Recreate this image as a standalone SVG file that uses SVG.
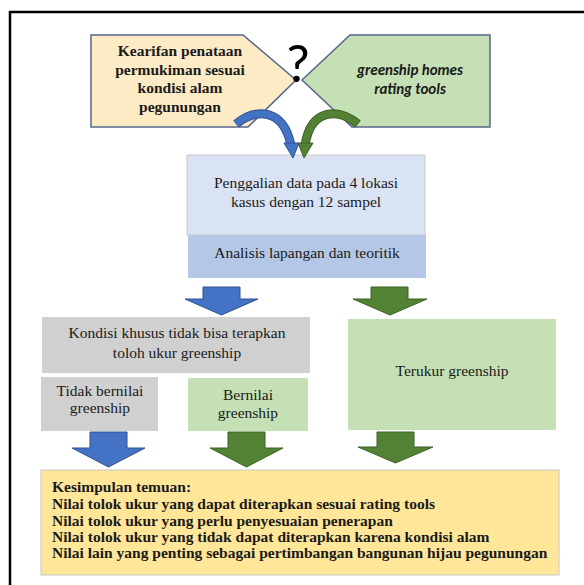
<svg xmlns="http://www.w3.org/2000/svg" width="584" height="585" viewBox="0 0 584 585">
<style>
.serif{font-family:'Liberation Serif','Times New Roman',serif;fill:#1a1a1a;text-anchor:middle}
.b15{font-size:15.5px;font-weight:bold}
.n15{font-size:15.5px}
.concl{font-family:'Liberation Serif','Times New Roman',serif;font-size:15.5px;font-weight:bold;fill:#1a1a1a}
.sans{font-family:Carlito,'Liberation Sans',Arial,sans-serif;text-anchor:middle}
.pent{stroke:#56678a;stroke-width:1.5}
.box{stroke:#c8c8c8;stroke-width:1}
.blueA{fill:#4472c4;stroke:#2f528f;stroke-width:1}
.greenA{fill:#548235;stroke:#3d6127;stroke-width:1}
</style>
<rect width="584" height="585" fill="#ffffff"/>
<path d="M10 585 V12 H584" fill="none" stroke="#000" stroke-width="2.5"/>

<g id="node-kearifan">
<polygon class="pent" points="91,35 243,35 296,80 248,127 91,127" fill="#fdebc6"/>
<text class="serif b15" x="180" y="56">Kearifan penataan</text>
<text class="serif b15" x="180" y="74.5">permukiman sesuai</text>
<text class="serif b15" x="180" y="93">kondisi alam</text>
<text class="serif b15" x="180" y="111.5">pegunungan</text>
</g>

<g id="node-greenship">
<polygon class="pent" points="350,35 490,35 490,127 352,127 302,80" fill="#c5e0b4"/>
<text class="sans" x="410" y="75" font-size="15" font-weight="bold" font-style="italic" fill="#1a1a1a">greenship homes</text>
<text class="sans" x="410" y="94" font-size="15" font-weight="bold" font-style="italic" fill="#1a1a1a">rating tools</text>
</g>

<g id="node-question">
<text class="sans" x="298" y="82" font-size="54" fill="#000">?</text>
</g>

<g id="node-penggalian">
<rect class="box" x="187" y="155" width="238" height="80" fill="#dae3f3"/>
<text class="serif n15" x="306" y="188">Penggalian data pada 4 lokasi</text>
<text class="serif n15" x="306" y="207">kasus dengan 12 sampel</text>
</g>

<g id="node-analisis">
<rect x="188" y="235" width="238" height="43" fill="#b4c7e7"/>
<text class="serif n15" x="307" y="258">Analisis lapangan dan teoritik</text>
</g>

<g id="node-kondisi">
<rect x="42" y="317" width="268" height="56" fill="#d0d0d0"/>
<text class="serif n15" x="177" y="338">Kondisi khusus tidak bisa terapkan</text>
<text class="serif n15" x="177" y="358">toloh ukur greenship</text>
</g>

<g id="node-tidak">
<rect x="41" y="377" width="117" height="54" fill="#d0d0d0"/>
<text class="serif n15" x="100" y="396">Tidak bernilai</text>
<text class="serif n15" x="100" y="413">greenship</text>
</g>

<g id="node-bernilai">
<rect x="188" y="378" width="120" height="53" fill="#c5e0b4"/>
<text class="serif n15" x="248" y="400">Bernilai</text>
<text class="serif n15" x="248" y="418">greenship</text>
</g>

<g id="node-terukur">
<rect x="348" y="319" width="208" height="111" fill="#c5e0b4"/>
<text class="serif n15" x="452" y="376">Terukur greenship</text>
</g>

<g id="node-kesimpulan">
<rect class="box" x="41" y="470" width="518" height="105" fill="#ffe699"/>
<text class="concl" x="52" y="492">Kesimpulan temuan:</text>
<text class="concl" x="52" y="509">Nilai tolok ukur yang dapat diterapkan sesuai rating tools</text>
<text class="concl" x="52" y="526">Nilai tolok ukur yang perlu penyesuaian penerapan</text>
<text class="concl" x="52" y="542">Nilai tolok ukur yang tidak dapat diterapkan karena kondisi alam</text>
<text class="concl" x="52" y="558">Nilai lain yang penting sebagai pertimbangan bangunan hijau pegunungan</text>
</g>

<g id="connectors">
<path d="M236 124 C256 108 283 108 291 145" fill="none" stroke="#2f528f" stroke-width="9"/>
<path d="M236 124 C256 108 283 108 291 145" fill="none" stroke="#4472c4" stroke-width="7"/>
<polygon class="blueA" points="284,143 299,143 293,158"/>
<path d="M358 124 C338 108 311 108 305 145" fill="none" stroke="#3d6127" stroke-width="9"/>
<path d="M358 124 C338 108 311 108 305 145" fill="none" stroke="#548235" stroke-width="7"/>
<polygon class="greenA" points="298,143 313,143 304,158"/>

<polygon class="blueA" points="203,287 240,287 240,299 258,299 221.5,315 185,299 203,299"/>
<polygon class="greenA" points="371,287 408,287 408,299 427,299 390,315 353,299 371,299"/>
<polygon class="blueA" points="90,432 127,432 127,448 145,448 108.5,467 72,448 90,448"/>
<polygon class="greenA" points="228,432 265,432 265,448 283,448 246.5,467 210,448 228,448"/>
<polygon class="greenA" points="377,432 414,432 414,447 433,447 395.5,463 358,447 377,447"/>
</g>
</svg>
